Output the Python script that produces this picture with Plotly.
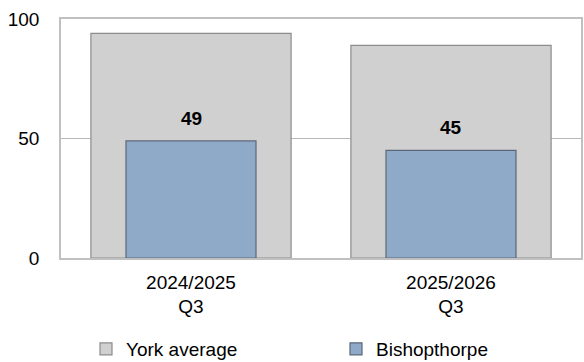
import plotly.graph_objects as go

categories = ["2024/2025<br>Q3", "2025/2026<br>Q3"]
york_average = [94, 89]
bishopthorpe = [49, 45]
y_ticks = [0, 50, 100]

FONT = "Liberation Sans, Arial, sans-serif"

fig = go.Figure()
fig.add_trace(go.Bar(
    x=categories, y=york_average, name="York average", width=0.77,
    marker=dict(color="#d0d0d0", line=dict(color="#8c8c8c", width=1.2)),
))
fig.add_trace(go.Bar(
    x=categories, y=bishopthorpe, name="Bishopthorpe", width=0.5,
    marker=dict(color="#8faac8", line=dict(color="#5c6878", width=1.2)),
))
for c, v in zip(categories, bishopthorpe):
    fig.add_annotation(x=c, y=v, text=f"<b>{v}</b>", showarrow=False,
                       yanchor="bottom", yshift=10,
                       font=dict(family=FONT, size=19, color="#000"))

fig.update_layout(
    barmode="overlay",
    width=584, height=362,
    margin=dict(l=61, r=1, t=19, b=104),
    plot_bgcolor="white", paper_bgcolor="white",
    font=dict(family=FONT, size=19, color="#000"),
    showlegend=True,
    legend=dict(orientation="h", x=86 / 584, xanchor="left", xref="container",
                y=1 - 349 / 362, yanchor="middle", yref="container",
                font=dict(family=FONT, size=19), entrywidth=205,
                traceorder="normal"),
    xaxis=dict(showline=True, linecolor="#c0c0c0", linewidth=1.5, mirror=True,
               ticks="", tickfont=dict(size=19), ticklabelstandoff=6),
    yaxis=dict(range=[0, 100], tickvals=y_ticks, showgrid=True,
               gridcolor="#b8b8b8", gridwidth=1, zeroline=False,
               showline=True, linecolor="#c0c0c0", linewidth=1.5, mirror=True,
               ticks="", ticklabelstandoff=16, tickfont=dict(size=19)),
)
fig.write_html("out.html", config={"displayModeBar": False},
               post_script="document.body.style.margin='0';")
